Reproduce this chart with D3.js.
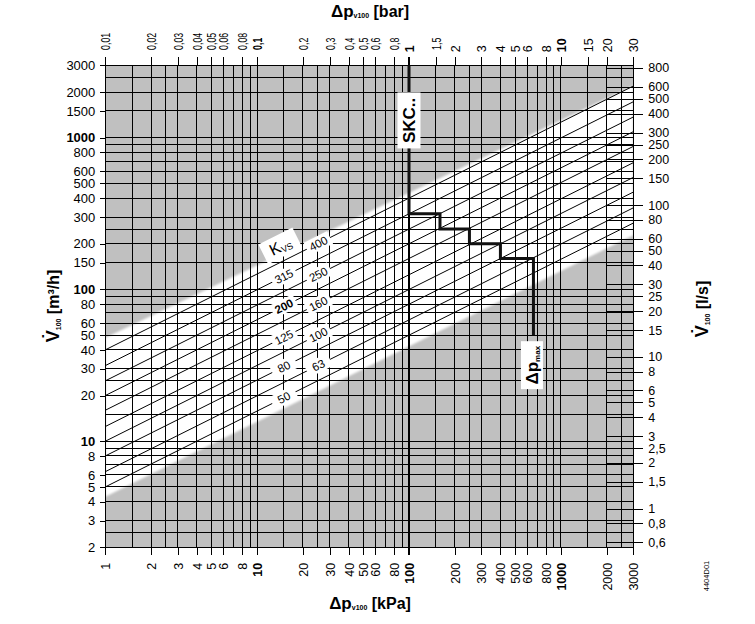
<!DOCTYPE html>
<html><head><meta charset="utf-8">
<script src="https://cdn.jsdelivr.net/npm/d3@7"></script>
<style>
body{margin:0;background:#fff}
svg{display:block}
text{font-family:"Liberation Sans",Arial,Helvetica,sans-serif;fill:#000}
</style>
</head><body>
<svg id="c" width="755" height="624"></svg>
<script>
// ---------- data ----------
const kvsValues = [50, 63, 80, 100, 125, 160, 200, 250, 315, 400];
const kvsLabelLeft = [315, 200, 125, 80, 50];    // labelled at 15 kPa
const kvsLabelRight = [400, 250, 160, 100, 63];  // labelled at 25 kPa
const bottomTicks = [1,2,3,4,5,6,8,10,20,30,40,50,60,80,100,200,300,400,500,600,800,1000,2000,3000];
const topTicks = [0.01,0.02,0.03,0.04,0.05,0.06,0.08,0.1,0.2,0.3,0.4,0.5,0.6,0.8,1,1.5,2,3,4,5,6,8,10,15,20,30];
const leftTicks = [3000,2000,1500,1000,800,600,500,400,300,200,150,100,80,60,50,40,30,20,10,8,6,5,4,3,2];
const rightTicks = [800,600,500,400,300,250,200,150,100,80,60,50,40,30,25,20,15,10,8,6,5,4,3,2.5,2,1.5,1,0.8,0.6];
const gridDecades = [1, 10, 100, 1000];
const gridMult = [1, 1.5, 2, 2.5, 3, 4, 5, 6, 7, 8, 9];
const stepLine = [[100,3000],[100,315],[160,315],[160,250],[250,250],[250,200],[400,200],[400,160],[660,160],[660,50]];
const bandUpper = [[1,48],[3000,2200]];
const bandLower = [[1,4.3],[3000,228]];
const boldLeft = [1000, 100, 10], boldBottom = [10, 100, 1000], boldTop = [0.1, 1, 10];

// ---------- scales ----------
const X0 = 105.3, X1 = 633.3, Y0 = 65.3, Y1 = 547.3;
const x = d3.scaleLog().domain([1, 3000]).range([X0, X1]);
const xTop = d3.scaleLog().domain([0.01, 30]).range([X0, X1]);
const y = d3.scaleLog().domain([2, 3000]).range([Y1, Y0]);
const yR = d3.scaleLog().domain([2/3.6, 3000/3.6]).range([Y1, Y0]);
const fmt = d => String(d).replace('.', ',');

const svg = d3.select("#c");
const defs = svg.append("defs");
defs.append("clipPath").attr("id","plot").append("rect")
  .attr("x",X0).attr("y",Y0).attr("width",X1-X0).attr("height",Y1-Y0);
defs.append("filter").attr("id","soft").append("feGaussianBlur").attr("stdDeviation",0.9);

// background
svg.append("rect").attr("x",X0).attr("y",Y0).attr("width",X1-X0).attr("height",Y1-Y0).attr("fill","#c0c0c0");
const pg = svg.append("g").attr("clip-path","url(#plot)");
const bandPts = [bandUpper[0], bandUpper[1], bandLower[1], bandLower[0]].map(d => [x(d[0]), y(d[1])].join(","));
pg.append("polygon").attr("points", bandPts.join(" ")).attr("fill","#fff").attr("filter","url(#soft)");

// grid
const vGrid = [], hGrid = [];
gridDecades.forEach(dd => gridMult.forEach(m => { const v = dd*m; if (v >= 1 && v <= 3000) vGrid.push(v); if (v >= 2 && v <= 3000) hGrid.push(v); }));
const gg = svg.append("g").attr("stroke","#000").attr("shape-rendering","crispEdges");
gg.selectAll("line.v").data(vGrid).join("line").attr("class","v")
  .attr("x1",d=>x(d)).attr("x2",d=>x(d)).attr("y1",Y0).attr("y2",Y1)
  .attr("stroke-width",d=>d===100?2:1);
gg.selectAll("line.h").data(hGrid).join("line").attr("class","h")
  .attr("y1",d=>y(d)).attr("y2",d=>y(d)).attr("x1",X0).attr("x2",X1).attr("stroke-width",1);

// Kvs lines
const kvLine = d3.line().x(d=>x(d[0])).y(d=>y(d[1]));
pg.selectAll("path.kv").data(kvsValues).join("path").attr("class","kv")
  .attr("d", kv => kvLine([[1, kv*Math.sqrt(0.01)], [3000, kv*Math.sqrt(30)]]))
  .attr("fill","none").attr("stroke","#000").attr("stroke-width",1);

// Kvs labels
const ang = -Math.atan(0.5)*180/Math.PI;
function kvLabel(kv, p) {
  const g = svg.append("g").attr("transform", `translate(${x(p)},${y(kv*Math.sqrt(p/100))}) rotate(${ang})`);
  g.append("rect").attr("x",-13).attr("y",-7).attr("width",26).attr("height",14).attr("fill","#fff");
  g.append("text").attr("text-anchor","middle").attr("dy","0.36em").attr("font-size",11.5)
    .attr("font-weight", kv===200?"bold":"normal").text(kv);
}
kvsLabelLeft.forEach(k => kvLabel(k, 15));
kvsLabelRight.forEach(k => kvLabel(k, 25.3));
{
  const g = svg.append("g").attr("transform", `translate(${x(14.2)},${y(194)}) rotate(${ang})`);
  g.append("rect").attr("x",-19).attr("y",-11).attr("width",38).attr("height",22).attr("fill","#fff");
  const t = g.append("text").attr("text-anchor","middle").attr("dy","0.35em");
  t.append("tspan").attr("font-size",16).text("K");
  t.append("tspan").attr("font-size",9).attr("dy","0.25em").text("VS");
}

// step line (SKC..)
svg.append("path").attr("d", kvLine(stepLine)).attr("fill","none").attr("stroke","#111").attr("stroke-width",3);
{
  const g = svg.append("g").attr("transform", `translate(${x(100)},${y(1300)}) rotate(-90)`);
  g.append("rect").attr("x",-28).attr("y",-11.5).attr("width",56).attr("height",23).attr("fill","#fff");
  g.append("text").attr("text-anchor","middle").attr("dy","0.36em").attr("font-size",17).attr("font-weight","bold").text("SKC..");
}
{
  const g = svg.append("g").attr("transform", `translate(${x(660)-1.5},${y(31.7)}) rotate(-90)`);
  g.append("rect").attr("x",-24).attr("y",-11).attr("width",48).attr("height",22).attr("fill","#fff");
  const t = g.append("text").attr("text-anchor","middle").attr("dy","0.38em").attr("font-weight","bold");
  t.append("tspan").attr("font-size",17).text("Δp");
  t.append("tspan").attr("font-size",8).attr("dy","0.3em").text("max");
}

// ---------- axes ----------
function clean(g){ g.select(".domain").remove(); g.selectAll(".tick line").attr("stroke","#000").attr("shape-rendering","crispEdges"); }

const ab = svg.append("g").attr("transform",`translate(0,${Y1})`)
  .call(d3.axisBottom(x).tickValues(bottomTicks).tickSize(8).tickFormat(fmt)).call(clean);
ab.selectAll(".tick line").attr("stroke-width",d=>d===100?2:1);
ab.selectAll(".tick text").attr("transform","rotate(-90)").attr("text-anchor","end")
  .attr("x",-15.5).attr("y",0).attr("dy","0.36em").attr("font-size",12.5)
  .attr("font-weight",d=>boldBottom.includes(d)?"bold":"normal").attr("fill","#000");

const at = svg.append("g").attr("transform",`translate(0,${Y0})`)
  .call(d3.axisTop(xTop).tickValues(topTicks).tickSize(8).tickFormat(fmt)).call(clean);
at.selectAll(".tick line").attr("stroke-width",d=>d===1?2:1);
at.selectAll(".tick text").attr("text-anchor","start").attr("y",0).attr("dy","0.36em")
  .attr("x", d => Number.isInteger(d) ? 13 : 22)
  .attr("transform", d => Number.isInteger(d) ? "rotate(-90)" : "rotate(-90) scale(0.7,1)")
  .attr("font-size",12.5)
  .attr("font-weight",d=>boldTop.includes(d)?"bold":"normal").attr("fill","#000");

const al = svg.append("g").attr("transform",`translate(${X0},0)`)
  .call(d3.axisLeft(y).tickValues(leftTicks).tickSize(5).tickPadding(5).tickFormat(fmt)).call(clean);
al.selectAll(".tick text").attr("font-size",13)
  .attr("font-weight",d=>boldLeft.includes(d)?"bold":"normal").attr("fill","#000");

const rStart = x(2000);
const ar = svg.append("g").attr("transform",`translate(${rStart},0)`)
  .call(d3.axisRight(yR).tickValues(rightTicks).tickSize(642.7-rStart).tickPadding(5.6).tickFormat(fmt)).call(clean);
ar.selectAll(".tick text").attr("font-size",12.5).attr("fill","#000");

// ---------- titles ----------
function title(tx, ty, rot, parts, anchor){
  const t = svg.append("text").attr("transform",`translate(${tx},${ty}) rotate(${rot})`)
    .attr("text-anchor",anchor||"middle").attr("font-weight","bold");
  parts.forEach(p => { const s = t.append("tspan").attr("font-size",p[1]).text(p[0]); if (p[2]) s.attr("dy",p[2]); });
  return t;
}
title(370, 17, 0, [["Δp",17],["v100",7,"0.2em"],[" [bar]",16,"-0.1em"]]);
title(370, 609, 0, [["Δp",17],["v100",7,"0.2em"],[" [kPa]",16,"-0.1em"]]);
title(59, 306, -90, [["V̇",18],["100",7,"0.25em"],[" [m³/h]",16,"-0.1em"]]);
title(708, 309, -90, [["V̇",18],["100",7,"0.25em"],[" [l/s]",16,"-0.1em"]]);
svg.append("text").attr("transform","translate(709,576) rotate(-90)").attr("text-anchor","middle")
  .attr("font-size",7.5).text("4404D01");
</script>
</body></html>
